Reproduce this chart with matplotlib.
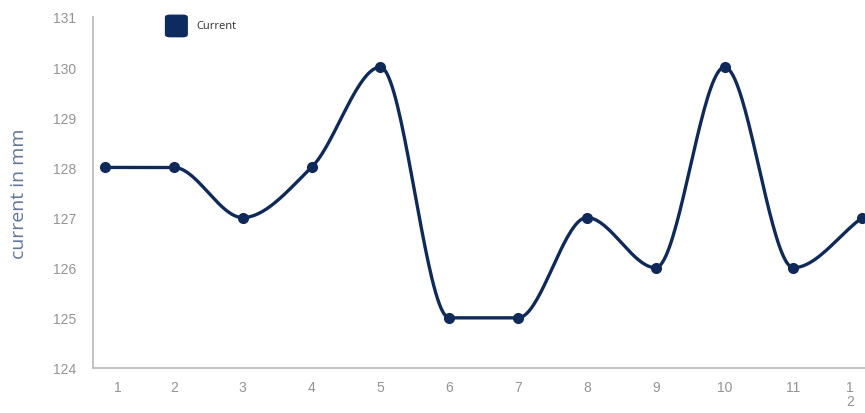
import numpy as np
import matplotlib.pyplot as plt
import matplotlib.transforms as mtransforms
from matplotlib.patches import FancyBboxPatch

plt.rcParams['font.family'] = ['Open Sans', 'DejaVu Sans']

# data
positions = [1, 2, 3, 4, 5, 6, 7, 8, 9, 10, 11, 12]
current = [128, 128, 127, 128, 130, 125, 125, 127, 126, 130, 126, 127]
tick_labels = ['1', '2', '3', '4', '5', '6', '7', '8', '9', '10', '11', '1\n2']

LINE = '#0f2a58'
GRID = '#bdbdbd'
TICK = '#939393'


def monotone_curve(x, y, n=40):
    """Fritsch-Carlson monotone cubic through the points"""
    x = np.asarray(x, float)
    y = np.asarray(y, float)
    h = np.diff(x)
    d = np.diff(y) / h
    m = np.zeros_like(y)
    m[0], m[-1] = d[0], d[-1]
    for i in range(1, len(y) - 1):
        if d[i - 1] * d[i] <= 0:
            m[i] = 0.
        else:
            w1 = 2 * h[i] + h[i - 1]
            w2 = h[i] + 2 * h[i - 1]
            m[i] = (w1 + w2) / (w1 / d[i - 1] + w2 / d[i])
    xs, ys = [], []
    for i in range(len(x) - 1):
        t = np.linspace(0, 1, n, endpoint=False)
        h00 = 2 * t**3 - 3 * t**2 + 1
        h10 = t**3 - 2 * t**2 + t
        h01 = -2 * t**3 + 3 * t**2
        h11 = t**3 - t**2
        xs.append(x[i] + t * h[i])
        ys.append(h00 * y[i] + h10 * h[i] * m[i] + h01 * y[i + 1] + h11 * h[i] * m[i + 1])
    xs.append([x[-1]])
    ys.append([y[-1]])
    return np.concatenate(xs), np.concatenate(ys)


fig = plt.figure(figsize=(8.65, 4.14), dpi=100)
ax = fig.add_axes([93 / 865, 45 / 414, 772 / 865, 351 / 414])

cx, cy = monotone_curve(positions, current)
ax.plot(cx, cy, color=LINE, linewidth=2.4, clip_on=False)
ax.plot(positions, current, 'o', color=LINE, markersize=7, clip_on=False,
        label='Current')

ax.set_xlim(0.826, 12.04)
ax.set_ylim(124, 131)
ax.set_yticks(range(124, 132))
ax.set_xticks(positions)
ax.set_xticklabels(tick_labels)

for side in ['top', 'right']:
    ax.spines[side].set_visible(False)
for side in ['left', 'bottom']:
    ax.spines[side].set_color(GRID)
    ax.spines[side].set_linewidth(1.3)

ax.tick_params(axis='both', length=0, colors=TICK, labelsize=10)
ax.tick_params(axis='y', pad=12)
ax.tick_params(axis='x', pad=9)
for lbl in ax.get_xticklabels() + ax.get_yticklabels():
    lbl.set_family(['Liberation Sans', 'DejaVu Sans'])

# nudge the first and last x labels
labels = ax.get_xticklabels()
labels[0].set_transform(labels[0].get_transform() +
                        mtransforms.ScaledTranslation(13 / 100, 0, fig.dpi_scale_trans))
labels[-1].set_transform(labels[-1].get_transform() +
                         mtransforms.ScaledTranslation(-12 / 100, 0, fig.dpi_scale_trans))
labels[-1].set_linespacing(0.95)

ax.set_ylabel('current in mm', color='#5f7898', fontsize=14, labelpad=18)

# legend box
ax.add_patch(FancyBboxPatch((0.094, 0.944), 0.028, 0.061, transform=ax.transAxes,
                            boxstyle='round,pad=0,rounding_size=0.006',
                            color='#0d2b5e', clip_on=False))
ax.text(0.134, 0.976, 'Current', transform=ax.transAxes, fontsize=8,
        color='#2e2e2e', va='center', ha='left')

fig.savefig('out.png', dpi=100)
